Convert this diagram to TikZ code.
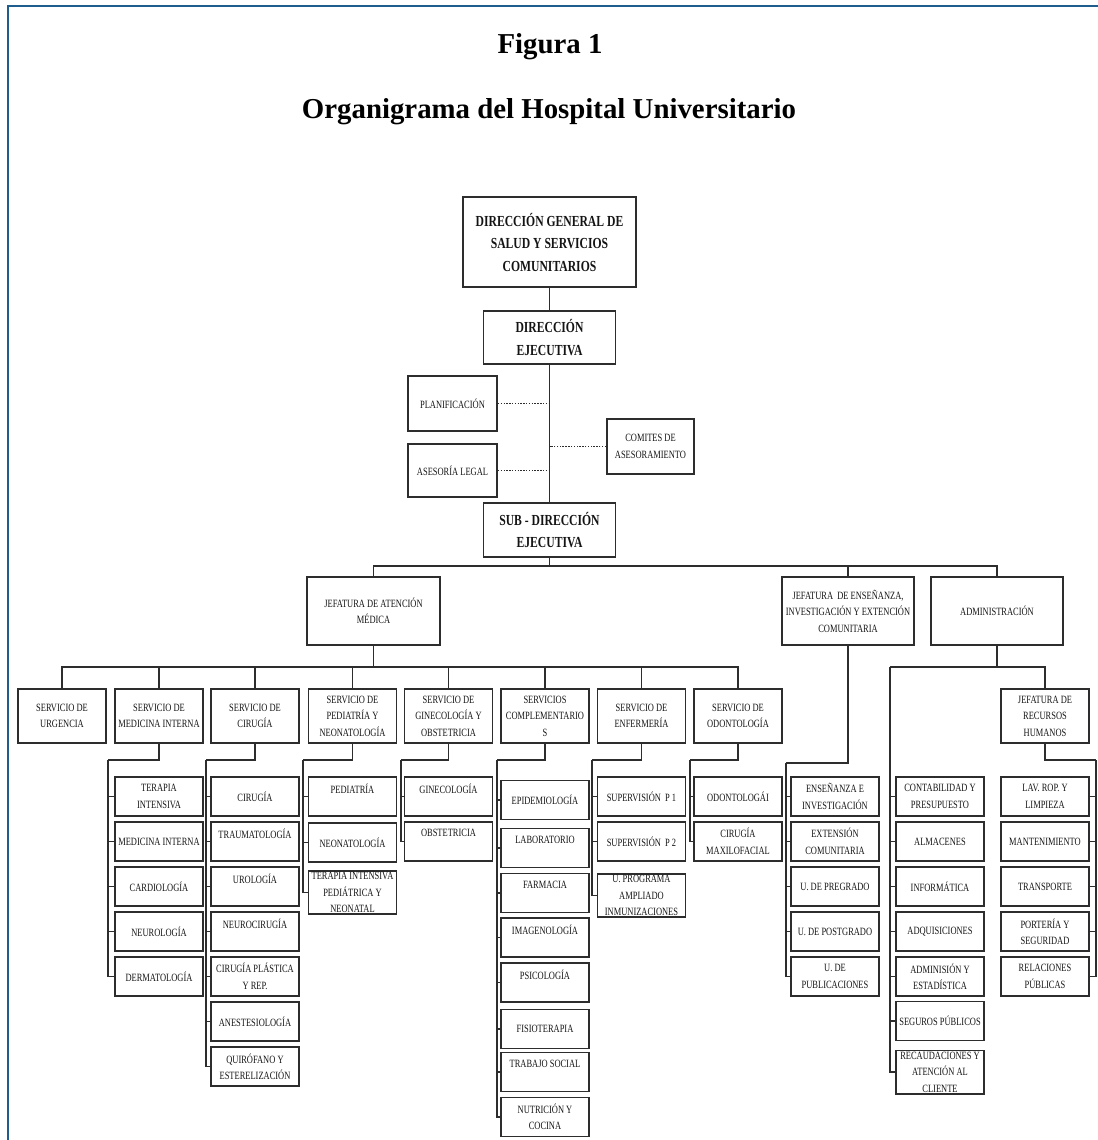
\documentclass[tikz,border=0pt]{standalone}
\usepackage{fontspec}
\setmainfont{Liberation Serif}[FakeStretch=0.76]
\newfontfamily\titlefont{Liberation Serif}
\usetikzlibrary{positioning,calc}
\definecolor{frameblue}{RGB}{31,94,140}
\definecolor{boxgray}{RGB}{45,45,45}
\definecolor{inkgray}{RGB}{20,20,20}
\tikzset{
  unit/.style={draw=boxgray, line width=1.3pt, align=flush center, inner xsep=0pt, inner ysep=1pt,
    text=inkgray, font=\fontsize{7.9}{11.7}\selectfont},
  svc/.style={unit, text width=2.2cm, minimum height=1.35cm},
  sub/.style={unit, text width=2.2cm, minimum height=0.975cm},
  head/.style={unit, font=\bfseries\fontsize{10.9}{16}\selectfont},
  link/.style={boxgray, line width=1.2pt},
  aux/.style={link, dash pattern=on 1pt off 1pt},
  titletext/.style={anchor=base, font=\titlefont\bfseries\fontsize{20.5}{24}\selectfont},
}
\begin{document}
\begin{tikzpicture}[x=0.025cm, y=-0.025cm]
  \useasboundingbox (0,0) rectangle (1098,1140);
  \draw[frameblue, line width=1.6pt] (8,1140) -- (8,6) -- (1098,6);

  \node[titletext] (fig) at (550,53) {Figura 1};
  \node[titletext] (titulo) at (549,118) {Organigrama del Hospital Universitario};

  % direccion
  \node[head, text width=4.325cm, minimum height=2.25cm] (dg) at (549.5,242)
    {DIRECCIÓN GENERAL DE\\SALUD Y SERVICIOS\\COMUNITARIOS};
  \node[head, text width=3.3cm, minimum height=1.325cm] (de) at (549.5,337.5) {DIRECCIÓN\\EJECUTIVA};
  \node[unit, text width=2.225cm, minimum height=1.375cm] (plan) at (452.5,403.5) {PLANIFICACIÓN};
  \node[unit, text width=2.225cm, minimum height=1.325cm] (ase) at (452.5,470.5) {ASESORÍA LEGAL};
  \node[unit, text width=2.175cm, minimum height=1.375cm] (com) at (650.5,446.5) {COMITES DE\\ASESORAMIENTO};
  \node[head, text width=3.3cm, minimum height=1.35cm] (sde) at (549.5,530) {SUB - DIRECCIÓN\\EJECUTIVA};
  \draw[link] (dg) -- (de);
  \draw[link] (de) -- (sde);
  \draw[aux] (plan.east) -- (plan.east -| de.south);
  \draw[aux] (ase.east) -- (ase.east -| de.south);
  \draw[aux] (com.west) -- (com.west -| de.south);

  % jefaturas
  \node[unit, text width=3.325cm, minimum height=1.7cm] (jam) at (373.5,611) {JEFATURA DE ATENCIÓN\\MÉDICA};
  \node[unit, text width=3.3cm, minimum height=1.7cm] (jei) at (848,611)
    {JEFATURA \ DE ENSEÑANZA,\\INVESTIGACIÓN Y EXTENCIÓN\\COMUNITARIA};
  \node[unit, text width=3.3cm, minimum height=1.7cm] (adm) at (997,611) {ADMINISTRACIÓN};
  \coordinate (b1) at (549.5,566);
  \draw[link] (sde.south) -- (b1);
  \foreach \n in {jam,jei,adm}
    \draw[link] (b1) -| (\n.north);

  % servicios
  \coordinate (b2) at (373.5,667);
  \draw[link] (jam.south) -- (b2);
  \foreach \n/\x/\t in {urg/62/{SERVICIO DE\\URGENCIA}, mi/159/{SERVICIO DE\\MEDICINA INTERNA},
      cir/255/{SERVICIO DE\\CIRUGÍA}, ped/352.5/{SERVICIO DE\\PEDIATRÍA Y\\NEONATOLOGÍA},
      gin/448.5/{SERVICIO DE\\GINECOLOGÍA Y\\OBSTETRICIA}, comp/545/{SERVICIOS\\COMPLEMENTARIO\\S},
      enf/641.5/{SERVICIO DE\\ENFERMERÍA}, odo/738/{SERVICIO DE\\ODONTOLOGÍA}} {
    \node[svc] (\n) at (\x,716) {\t};
    \draw[link] (b2) -| (\n.north);
  }
  \node[svc] (jrh) at (1045,716) {JEFATURA DE\\RECURSOS\\HUMANOS};

  % medicina interna
  \coordinate (miT) at (108,760);
  \draw[link] (mi.south) |- (miT);
  \foreach \t [count=\i from 0] in {{TERAPIA\\INTENSIVA}, MEDICINA INTERNA, CARDIOLOGÍA, NEUROLOGÍA, DERMATOLOGÍA} {
    \node[sub] (mi\i) at (159,796.5+45*\i) {\t};
    \draw[link] (miT) |- (mi\i.west);
  }

  % cirugia
  \coordinate (cirT) at (206,760);
  \draw[link] (cir.south) |- (cirT);
  \foreach \t [count=\i from 0] in {CIRUGÍA, {TRAUMATOLOGÍA\\~}, {UROLOGÍA\\~}, {NEUROCIRUGÍA\\~},
      {CIRUGÍA PLÁSTICA\\Y REP.}, ANESTESIOLOGÍA, {QUIRÓFANO Y\\ESTERELIZACIÓN}} {
    \node[sub] (cir\i) at (255,796.5+45*\i) {\t};
    \draw[link] (cirT) |- (cir\i.west);
  }

  % pediatria
  \coordinate (pedT) at (303,760);
  \draw[link] (ped.south) |- (pedT);
  \foreach \t/\y [count=\i] in {{PEDIATRÍA\\~}/796.5, NEONATOLOGÍA/842.5,
      {TERAPIA INTENSIVA\\PEDIÁTRICA Y\\NEONATAL}/892.5} {
    \node[sub] (ped\i) at (352.5,\y) {\t};
    \draw[link] (pedT) |- (ped\i.west);
  }

  % ginecologia
  \coordinate (ginT) at (401,760);
  \draw[link] (gin.south) |- (ginT);
  \foreach \t [count=\i from 0] in {{GINECOLOGÍA\\~}, {OBSTETRICIA\\~}} {
    \node[sub] (gin\i) at (448.5,796.5+45*\i) {\t};
    \draw[link] (ginT) |- (gin\i.west);
  }

  % complementarios
  \coordinate (compT) at (497,760);
  \draw[link] (comp.south) |- (compT);
  \foreach \t/\y [count=\i] in {EPIDEMIOLOGÍA/800, {LABORATORIO\\~}/848, {FARMACIA\\~}/893,
      {IMAGENOLOGÍA\\~}/937.5, {PSICOLOGÍA\\~}/982.5, FISIOTERAPIA/1029, {TRABAJO SOCIAL\\~}/1072,
      {NUTRICIÓN Y\\COCINA}/1117} {
    \node[sub] (comp\i) at (545,\y) {\t};
    \draw[link] (compT) |- (comp\i.west);
  }

  % enfermeria
  \coordinate (enfT) at (592,760);
  \draw[link] (enf.south) |- (enfT);
  \foreach \t/\y [count=\i] in {SUPERVISIÓN \ P 1/796.5, SUPERVISIÓN \ P 2/841.5,
      {U. PROGRAMA\\AMPLIADO\\INMUNIZACIONES}/895.5} {
    \node[sub] (enf\i) at (641.5,\y) {\t};
    \draw[link] (enfT) |- (enf\i.west);
  }

  % odontologia
  \coordinate (odoT) at (690,760);
  \draw[link] (odo.south) |- (odoT);
  \foreach \t [count=\i from 0] in {ODONTOLOGÁI, {CIRUGÍA\\MAXILOFACIAL}} {
    \node[sub] (odo\i) at (738,796.5+45*\i) {\t};
    \draw[link] (odoT) |- (odo\i.west);
  }

  % ensenanza
  \coordinate (jeiT) at (786,763);
  \draw[link] (jei.south) |- (jeiT);
  \foreach \t [count=\i from 0] in {{ENSEÑANZA E\\INVESTIGACIÓN}, {EXTENSIÓN\\COMUNITARIA},
      U. DE PREGRADO, U. DE POSTGRADO, {U. DE\\PUBLICACIONES}} {
    \node[sub] (jei\i) at (835,796.5+45*\i) {\t};
    \draw[link] (jeiT) |- (jei\i.west);
  }

  % administracion
  \coordinate (admT) at (890,667);
  \draw[link] (adm.south) |- (admT);
  \draw[link] (admT) -| (jrh.north);
  \foreach \t/\y [count=\i] in {{CONTABILIDAD Y\\PRESUPUESTO}/796.5, ALMACENES/841.5, INFORMÁTICA/886.5,
      ADQUISICIONES/931.5, {ADMINISIÓN Y\\ESTADÍSTICA}/976.5, SEGUROS PÚBLICOS/1021,
      {RECAUDACIONES Y\\ATENCIÓN AL\\CLIENTE}/1072} {
    \node[sub] (adm\i) at (940,\y) {\t};
    \draw[link] (admT) |- (adm\i.west);
  }

  % recursos humanos
  \coordinate (jrhT) at (1096,760);
  \draw[link] (jrh.south) |- (jrhT);
  \foreach \t [count=\i from 0] in {{LAV. ROP. Y\\LIMPIEZA}, MANTENIMIENTO, TRANSPORTE,
      {PORTERÍA Y\\SEGURIDAD}, {RELACIONES\\PÚBLICAS}} {
    \node[sub] (jrh\i) at (1045,796.5+45*\i) {\t};
    \draw[link] (jrhT) |- (jrh\i.east);
  }
\end{tikzpicture}
\end{document}
